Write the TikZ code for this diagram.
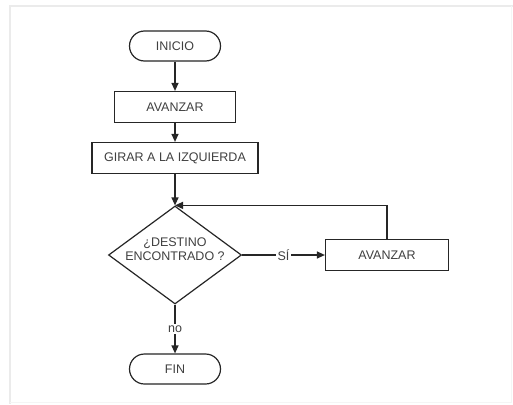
\documentclass[tikz,border=0pt]{standalone}
\usepackage{fontspec}
\setmainfont{Liberation Sans}
\usetikzlibrary{shapes.geometric,arrows.meta}
\begin{document}
\begin{tikzpicture}[x=1pt,y=-1pt,
  font=\fontsize{12.5}{14}\selectfont,
  every node/.style={text=black!75},
  line/.style={draw=black!85,line width=1.2pt},
  arr/.style={line,-{Triangle[length=8pt,width=7pt]}},
  terminal/.style={line,rectangle,rounded corners=15pt,minimum width=91pt,minimum height=30pt,inner sep=0pt},
  process/.style={line,rectangle,minimum height=31pt,inner sep=0pt},
  decision/.style={line,diamond,minimum width=133pt,minimum height=98pt,inner sep=0pt},
  lbl/.style={fill=white,inner sep=2pt}]
  % page and frame
  \useasboundingbox[fill=white] (0,0) rectangle (513,404);
  \draw[black!8,line width=1.5pt] (10,404) -- (10,6) -- (513,6);
  \draw[black!4,line width=1pt] (10,402) -- (511,402) -- (511,6);
  % nodes
  \node[terminal] (inicio) at (175,46) {INICIO};
  \node[process,minimum width=121pt] (avanzar) at (175,107) {AVANZAR};
  \node[process,minimum width=166pt] (girar) at (175,158) {GIRAR A LA IZQUIERDA};
  \node[decision] (dest) at (175,255) {};
  \node[align=center,inner sep=0pt] (destxt) at (175,249) {¿DESTINO\\ENCONTRADO ?};
  \node[process,minimum width=123pt] (avanzar2) at (387,255) {AVANZAR};
  \node[terminal] (fin) at (175,369) {FIN};
  % connectors
  \draw[arr] (inicio) -- (avanzar);
  \draw[arr] (avanzar) -- (girar);
  \draw[arr] (girar) -- (dest.north);
  \draw[arr] (dest.east) -- node[lbl] {SÍ} (avanzar2.west);
  \draw[arr] (avanzar2.north) |- (dest.north);
  \draw[arr] (dest.south) -- node[lbl] {no} (fin.north);
\end{tikzpicture}
\end{document}
